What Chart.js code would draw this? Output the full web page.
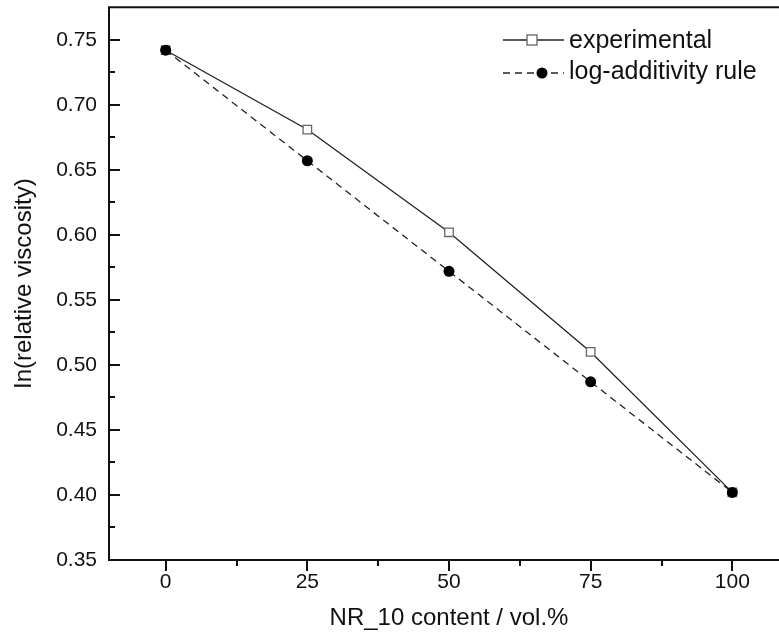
<!DOCTYPE html>
<html>
<head>
<meta charset="utf-8">
<script src="https://cdn.jsdelivr.net/npm/chart.js@4.4.1/dist/chart.umd.min.js"></script>
<style>
    html, body { margin: 0; padding: 0; overflow: hidden; background: #fff; }
    #wrap { position: relative; width: 800px; height: 642px; }
</style>
</head>
<body>
<div id="wrap"><canvas id="chart"></canvas></div>
<script>
// ========================================
// DATA
// ========================================

const CONTENT = [0, 25, 50, 75, 100];
const EXPERIMENTAL = [0.742, 0.681, 0.602, 0.510, 0.402];
const LOG_ADDITIVITY = [0.742, 0.657, 0.572, 0.487, 0.402];

const X_TICKS = [0, 25, 50, 75, 100];
const X_MINOR = [12.5, 37.5, 62.5, 87.5];
const Y_TICKS = [0.35, 0.40, 0.45, 0.50, 0.55, 0.60, 0.65, 0.70, 0.75];
const Y_MINOR = [0.375, 0.425, 0.475, 0.525, 0.575, 0.625, 0.675, 0.725];

const FONT = "'Liberation Sans', Arial, sans-serif";
const INK = '#111';

// ========================================
// PLUGINS
// ========================================

// frame + inward (y) / outward (x) tick marks
const framePlugin = {
    id: 'frame',
    afterDraw(chart) {
        const { ctx, chartArea: a, scales } = chart;
        ctx.save();
        ctx.strokeStyle = INK;
        ctx.lineWidth = 2;
        ctx.beginPath();
        ctx.moveTo(a.left, a.top);
        ctx.lineTo(a.right, a.top);
        ctx.lineTo(a.right, a.bottom);
        ctx.lineTo(a.left, a.bottom);
        ctx.closePath();
        ctx.stroke();

        ctx.beginPath();
        Y_TICKS.forEach(v => {
            const y = Math.round(scales.y.getPixelForValue(v));
            ctx.moveTo(a.left, y);
            ctx.lineTo(a.left + 11, y);
        });
        Y_MINOR.forEach(v => {
            const y = Math.round(scales.y.getPixelForValue(v));
            ctx.moveTo(a.left, y);
            ctx.lineTo(a.left + 6, y);
        });
        X_TICKS.forEach(v => {
            const x = Math.round(scales.x.getPixelForValue(v));
            ctx.moveTo(x, a.bottom);
            ctx.lineTo(x, a.bottom + 11);
        });
        X_MINOR.forEach(v => {
            const x = Math.round(scales.x.getPixelForValue(v));
            ctx.moveTo(x, a.bottom);
            ctx.lineTo(x, a.bottom + 6);
        });
        ctx.stroke();
        ctx.restore();
    }
};

// legend with line sample + marker, like the original plot
const legendPlugin = {
    id: 'sampleLegend',
    afterDraw(chart) {
        const { ctx } = chart;
        const rows = [
            { ds: chart.data.datasets[1], y: 40, mx: 532, base: 48 },
            { ds: chart.data.datasets[0], y: 73, mx: 542, base: 79 }
        ];
        ctx.save();
        rows.forEach(r => {
            ctx.strokeStyle = r.ds.borderColor;
            ctx.lineWidth = r.ds.borderWidth;
            ctx.setLineDash(r.ds.borderDash || []);
            ctx.beginPath();
            ctx.moveTo(503, r.y);
            ctx.lineTo(564, r.y);
            ctx.stroke();
            ctx.setLineDash([]);

            if (r.ds.pointStyle === 'rect') {
                ctx.fillStyle = r.ds.pointBackgroundColor;
                ctx.strokeStyle = r.ds.pointBorderColor;
                ctx.lineWidth = 1.3;
                ctx.fillRect(r.mx - 5, r.y - 5, 10, 10);
                ctx.strokeRect(r.mx - 5, r.y - 5, 10, 10);
            } else {
                ctx.fillStyle = r.ds.pointBackgroundColor;
                ctx.beginPath();
                ctx.arc(r.mx, r.y, 5.5, 0, Math.PI * 2);
                ctx.fill();
            }

            ctx.fillStyle = INK;
            ctx.font = `25px ${FONT}`;
            ctx.textBaseline = 'alphabetic';
            ctx.textAlign = 'left';
            ctx.fillText(r.ds.label, 569, r.base);
        });
        ctx.restore();
    }
};

// ========================================
// CHART
// ========================================

new Chart(document.getElementById('chart'), {
    type: 'line',
    data: {
        labels: CONTENT,
        datasets: [
            {
                label: 'log-additivity rule',
                data: CONTENT.map((x, i) => ({ x, y: LOG_ADDITIVITY[i] })),
                borderColor: '#222',
                borderWidth: 1.3,
                borderDash: [7, 5],
                pointStyle: 'circle',
                pointRadius: 5.5,
                pointBackgroundColor: '#000',
                pointBorderColor: '#000',
                pointBorderWidth: 0,
                order: 0
            },
            {
                label: 'experimental',
                data: CONTENT.map((x, i) => ({ x, y: EXPERIMENTAL[i] })),
                borderColor: '#222',
                borderWidth: 1.3,
                pointStyle: 'rect',
                pointRadius: 6,
                pointBackgroundColor: '#fff',
                pointBorderColor: '#666',
                pointBorderWidth: 1.3,
                order: 1
            }
        ]
    },
    options: {
        responsive: true,
        maintainAspectRatio: false,
        animation: false,
        layout: { padding: { top: 7, right: 11, left: 0, bottom: 0 } },
        plugins: {
            legend: { display: false },
            tooltip: { enabled: false }
        },
        scales: {
            x: {
                type: 'linear',
                min: -10,
                max: 110,
                grid: { display: false, drawTicks: false },
                border: { display: false },
                afterBuildTicks: s => { s.ticks = X_TICKS.map(v => ({ value: v })); },
                afterFit: s => { s.height = 82; s.paddingLeft = 0; s.paddingRight = 0; },
                ticks: {
                    padding: 10,
                    color: INK,
                    font: { family: FONT, size: 21 },
                    maxRotation: 0
                },
                title: {
                    display: true,
                    text: 'NR_10 content / vol.%',
                    color: INK,
                    font: { family: FONT, size: 24 },
                    padding: { top: 0, bottom: 9 }
                }
            },
            y: {
                type: 'linear',
                min: 0.35,
                max: 0.775,
                grid: { display: false, drawTicks: false },
                border: { display: false },
                afterBuildTicks: s => { s.ticks = Y_TICKS.map(v => ({ value: v })); },
                afterFit: s => { s.width = 109; s.paddingTop = 0; s.paddingBottom = 0; },
                ticks: {
                    padding: 12,
                    color: INK,
                    font: { family: FONT, size: 21 },
                    callback: v => v.toFixed(2)
                },
                title: {
                    display: true,
                    text: 'In(relative viscosity)',
                    color: INK,
                    font: { family: FONT, size: 24 },
                    padding: { top: 10, bottom: 0 }
                }
            }
        }
    },
    plugins: [framePlugin, legendPlugin]
});
</script>
</body>
</html>
